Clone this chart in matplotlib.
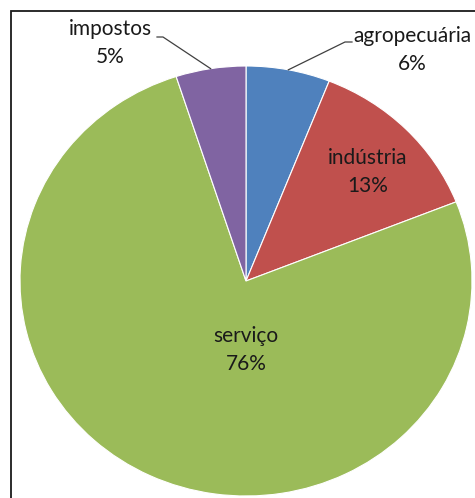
import numpy as np
import matplotlib
matplotlib.use("Agg")
import matplotlib.pyplot as plt
from matplotlib.patches import Rectangle

# data (clockwise from 12 o'clock)
categories = ["agropecuária", "indústria", "serviço", "impostos"]
shares = [6, 13, 76, 5]
colors = ["#4F81BD", "#C0504D", "#9BBB59", "#8064A2"]

plt.rcParams['font.family'] = ['Lato', 'DejaVu Sans']

W, H = 475, 498
fig = plt.figure(figsize=(W / 100, H / 100), dpi=100)

# pie box in pixels (slightly wider than tall, like the original)
cx, cy, rx, ry = 246, 281, 226, 215
ax = fig.add_axes([(cx - rx) / W, 1 - (cy + ry) / H, 2 * rx / W, 2 * ry / H])

wedges, _ = ax.pie(shares, colors=colors, startangle=90, counterclock=False,
                   wedgeprops=dict(edgecolor='white', linewidth=0.8))
ax.set_aspect('auto')
ax.set_xlim(-1, 1)
ax.set_ylim(-1, 1)
ax.axis('off')

def px(x, y):
    # pixel position -> data coords of the pie axes
    return (x - cx) / rx, (cy - y) / ry

txt = dict(ha='center', va='center', fontsize=15, color='#1a1a1a',
           linespacing=1.55)

# inside labels
for i, pos in [(1, (368, 172)), (2, (246, 350))]:
    x, y = px(*pos)
    ax.text(x, y, f"{categories[i]}\n{shares[i]}%", **txt)

# outside labels with leader lines
outside = [(0, (412, 50), (345, 42), (352, 42)),
           (3, (110, 43), (163, 37), (157, 37))]
for i, tpos, elbow, end in outside:
    w = wedges[i]
    mid = np.deg2rad((w.theta1 + w.theta2) / 2)
    p0 = (np.cos(mid), np.sin(mid))
    p1 = px(*elbow)
    p2 = px(*end)
    ax.plot([p0[0], p1[0], p2[0]], [p0[1], p1[1], p2[1]],
            color='#404040', linewidth=0.9, clip_on=False)
    x, y = px(*tpos)
    ax.text(x, y, f"{categories[i]}\n{shares[i]}%", **txt)

# chart frame (runs off the right and bottom edge)
fig.patches.append(Rectangle((11 / W, -0.1), 1.2, 1 - 11 / H + 0.1,
                             transform=fig.transFigure, fill=False,
                             edgecolor='#1a1a1a', linewidth=1.3, zorder=0))

fig.savefig("out.png", dpi=100)
